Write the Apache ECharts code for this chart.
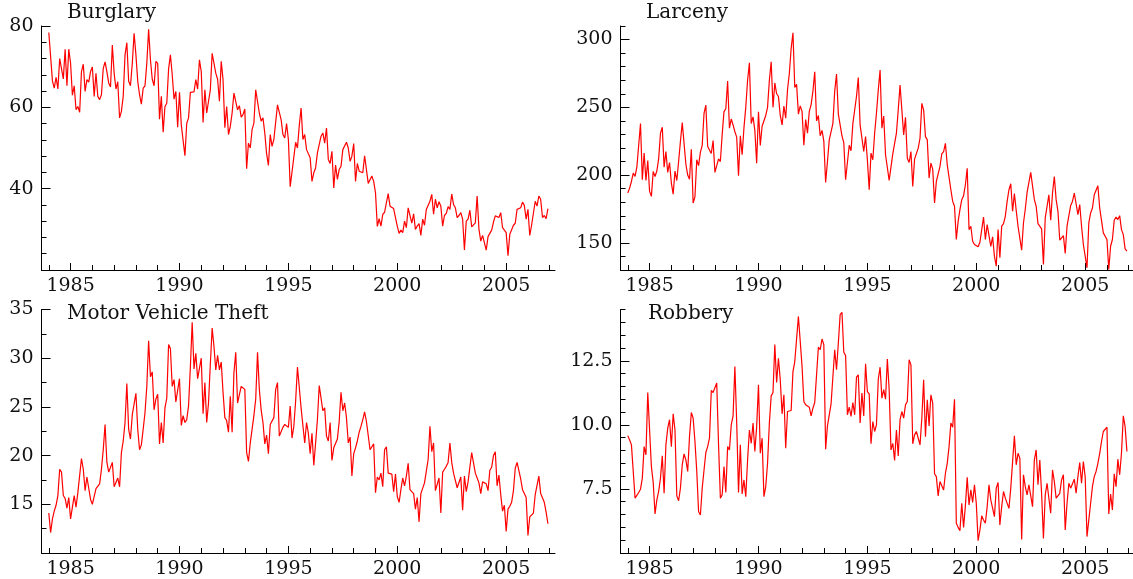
<!DOCTYPE html>
<html>
<head>
<meta charset="utf-8">
<script src="https://cdn.jsdelivr.net/npm/echarts@6/dist/echarts.min.js"></script>
<style>
  html, body { margin: 0; padding: 0; background: #fff; }
  #chart { width: 1133px; height: 579px; }
</style>
</head>
<body>
<div id="chart"></div>
<script>
// monthly values, Jan 1984 .. Dec 2006
const startYear = 1984;

const burglary = [
  78.4, 72.5, 66.5, 64.7, 67.4, 64.5, 72, 72.3, 67, 74.3, 65.3, 74.3,
  70.8, 63, 65.3, 59.4, 60.2, 58.8, 68.8, 70.6, 63.9, 66.8, 66.2, 68.8,
  69.9, 62.7, 68.4, 62.7, 61.9, 63.1, 69.6, 71.2, 68.8, 66, 65, 75.3,
  68.4, 64.5, 66.3, 57.4, 59, 62.7, 72.9, 75.9, 66.4, 65.3, 70.8, 78.2,
  72.9, 66.4, 63.1, 60.8, 64.7, 65.3, 70.8, 79.2, 71.7, 66.9, 65.3, 71.3,
  70.8, 57.1, 62.7, 53.9, 60.2, 61, 69.4, 72.9, 68, 62, 63.9, 55.1,
  63.7, 55.7, 55.5, 48.1, 56.1, 57.4, 63.7, 63.9, 63.8, 66.8, 64.5, 71.7,
  68.8, 56.3, 64.3, 58.6, 61.5, 64.3, 73.3, 73.5, 68.4, 66.9, 61.5, 71.3,
  66.8, 55, 60.2, 53.3, 55.3, 58.6, 63.5, 63.9, 59.4, 60.4, 57.6, 58.2,
  59.6, 44.9, 51.2, 50, 54.5, 56.1, 64.3, 64.7, 58.6, 56.6, 57.4, 53.7,
  48.6, 45.7, 53.3, 50.4, 52.1, 52.2, 60.6, 60.8, 57, 53.3, 52.5, 56,
  52.1, 40.5, 44.1, 43.9, 51.4, 50, 55.5, 59.8, 52.1, 53.3, 49.6, 49.2,
  47.6, 41.8, 43.9, 45.1, 48.8, 48.4, 52.9, 53.7, 51.2, 54.9, 47.2, 46.2,
  49.2, 40.2, 45.8, 42.3, 44.7, 45.5, 49.6, 49.2, 51.4, 50, 46.7, 48,
  51.1, 41.8, 46.2, 44.3, 44.5, 43.9, 48.1, 48.4, 41.3, 41.6, 43.1, 41.8,
  39, 30.7, 32.6, 30.8, 33.7, 34.2, 36.5, 38.8, 35.7, 35.6, 35.1, 32.9,
  30.8, 29, 29.8, 29.2, 32, 30.4, 35.3, 35.3, 31.5, 33.8, 30, 30.8,
  31.4, 28.5, 32.5, 31, 34.9, 35.3, 36.9, 38.6, 33.7, 37.4, 35.3, 36.8,
  35.7, 30.8, 33.4, 33.9, 35.6, 34.9, 38.7, 36.1, 35.3, 32.9, 33.4, 34.1,
  32.5, 24.9, 32, 32.5, 34.7, 30.6, 30.6, 31.6, 38.2, 30, 27.1, 28.5,
  28.5, 24.9, 28.2, 28.5, 29.8, 31.8, 33.3, 33.1, 32.9, 34.1, 30.4, 30.4,
  29.2, 23.5, 28.8, 28.8, 31, 31.5, 34.9, 35.3, 35.3, 36.7, 35.9, 32.5,
  34.9, 28.5, 31, 30.8, 36.9, 35.7, 38.2, 37.4, 32.9, 33.4, 32.6, 35.1
];

const larceny = [
  186.8, 190.4, 195.3, 201.5, 199, 206, 222, 238, 196.6, 216.2, 196, 210.8,
  188, 184.3, 202.7, 199, 203, 212, 230.9, 235.3, 205.9, 217.4, 202, 209.3,
  194.1, 186, 203, 196, 210, 225, 238.7, 238, 208, 200, 197, 219.1,
  179.4, 184, 211.3, 207, 217, 222, 245.6, 251.7, 221.1, 221, 216, 225.5,
  202, 202, 212, 210, 230, 246.8, 249, 269.4, 234.6, 241.4, 237, 232,
  228, 199.5, 229, 215, 235, 250, 270, 282.8, 238, 243, 233, 208.8,
  246.8, 221.8, 236, 236, 244, 250, 270, 283.6, 250, 268, 260, 258,
  244, 237, 251, 242, 263, 275, 293.4, 305, 264.7, 267, 245, 251,
  247, 222, 241, 231, 247, 252, 262, 276.2, 240, 244, 229, 233,
  225, 194.6, 210, 226, 232, 238, 262, 274.5, 245, 246, 229, 224,
  196.6, 197, 222, 218, 238, 248, 258, 272, 237, 237, 217.4, 228.4,
  211.3, 189.2, 216.2, 211.3, 230.9, 245.6, 262.7, 277.5, 234.6, 243.6, 215, 214.2,
  196.1, 196.6, 215.7, 215.7, 230.9, 248, 266.4, 266.4, 229.7, 242.6, 212.5, 209.3,
  217.4, 191.7, 211.8, 211.8, 219.9, 227.2, 252.9, 248, 228.4, 226, 197.8, 208.8,
  204.4, 179.4, 195.3, 194.6, 206.4, 215.7, 217.4, 223.5, 207.6, 207.6, 189.2, 180.6,
  177, 152.5, 165.9, 174.5, 181.9, 184.8, 192.9, 205.1, 159.8, 162.3, 151.2, 148.8,
  148.3, 147.1, 150.5, 159.8, 169.1, 152.5, 163.5, 163.5, 147.5, 154.4, 140.2, 132.8,
  159.8, 139, 162.3, 164.2, 169.6, 180.6, 189.2, 193.6, 173.3, 186.3, 174, 162.3,
  161, 144.6, 164.7, 175, 187.3, 188, 202, 202, 181.9, 177, 164.2, 163.5,
  160.3, 134.1, 168.4, 169.1, 185.5, 166.7, 186.8, 199, 181.9, 173.3, 152, 153.7,
  155.4, 142.2, 162.3, 162.7, 177.5, 180.6, 186.8, 185.5, 170.8, 178.2, 162.3, 148.8,
  147.5, 131.6, 164.7, 172.1, 175.7, 185.5, 186.8, 192.2, 175.7, 174.5, 157.4, 157.4,
  152.5, 130.4, 147.5, 152.5, 166.7, 169.1, 167.2, 170.1, 159.8, 156.1, 145.6, 143.9
];

const motorVehicleTheft = [
  14.1, 12.1, 13.5, 14.3, 14.9, 15.9, 18.6, 18.3, 15.9, 15.6, 14.6, 15.7,
  13.5, 13.5, 15.9, 14.7, 16.2, 16.4, 19.7, 18.6, 16.4, 17.8, 17.8, 15.5,
  15, 15, 16.6, 16.5, 17.1, 18.6, 20.6, 23.2, 19.3, 18.3, 18.2, 19.3,
  16.8, 16.8, 17.7, 16.8, 20.3, 21.5, 23.4, 27.4, 22.7, 21.7, 24.2, 25.3,
  26.4, 22.7, 20.6, 21.1, 22.7, 24.4, 27.1, 31.8, 28.1, 28.6, 24.7, 25.8,
  26.3, 21.2, 23.4, 21.3, 24.9, 25.9, 31.4, 31, 27.1, 27.8, 25.5, 25.5,
  27.9, 23.1, 24.1, 23.4, 23.7, 25.1, 29.1, 33.7, 28.9, 30.5, 27.9, 28,
  30, 24.3, 27.5, 23.4, 25.4, 29.4, 33.1, 31.2, 28.8, 30.3, 28.8, 29.6,
  26.5, 23.9, 23.6, 22.4, 26.1, 22.4, 28.5, 30.6, 25.4, 25.3, 27.1, 27.1,
  26.8, 20.3, 19.4, 21.3, 22.7, 24.1, 25.8, 30.6, 26.8, 24.7, 23.4, 21.2,
  22.1, 20.2, 23.2, 23.2, 23.9, 26.8, 27.5, 22, 22, 22.9, 23.2, 23.2,
  22.9, 25.1, 21.8, 23, 25.6, 29.1, 28.9, 24.9, 24.8, 21.3, 23.4, 22.3,
  20.2, 22.3, 19, 21.3, 23.7, 27.2, 27.4, 24.6, 24.9, 22, 21.5, 23.4,
  19.5, 20.8, 20.8, 21.7, 23.5, 26.5, 24.6, 25.4, 23.9, 21.3, 21.9, 17.9,
  20.2, 20.8, 21.5, 22.4, 23, 23.7, 24.5, 23.5, 23.5, 20.6, 20.6, 21.2,
  16.2, 17.8, 17.5, 18.2, 16.8, 20.6, 20.9, 18.2, 18.2, 18.1, 16.3, 18.1,
  15.8, 15.2, 16.5, 17.7, 16.9, 17.9, 19.2, 16.5, 16.4, 16.1, 14.5, 15.7,
  13.2, 16.1, 15.9, 17.2, 18.4, 19.6, 23, 20.4, 21.3, 16.4, 16.6, 17.7,
  14.1, 18.3, 18.6, 18.9, 19.3, 21.3, 19.3, 18.2, 18.2, 16.7, 16.8, 17.8,
  14.4, 17.9, 16.3, 17.3, 17.2, 20.3, 20.1, 18.2, 17.7, 17.2, 16.1, 17.3,
  17.2, 17.1, 16.4, 18.5, 18.8, 20, 20.4, 16.9, 18, 16, 14.3, 14.9,
  12.2, 14.5, 14.8, 15.2, 16.4, 18.7, 19.3, 19.2, 17.6, 16.5, 16.1, 15.7,
  11.8, 13.7, 13.8, 14.1, 16, 15.9, 17.9, 16.1, 16.1, 15.2, 14.2, 13
];

const robbery = [
  9.58, 9.41, 9.22, 8.18, 7.14, 7.1, 7.36, 7.49, 7.92, 9.15, 8.83, 11.26,
  9.8, 8.37, 7.75, 6.52, 7.07, 7.4, 7.92, 8.79, 7.33, 9.22, 9.87, 10.2,
  9.15, 10.43, 9.8, 7.23, 7.04, 7.53, 8.44, 8.87, 8.63, 8.18, 9.54, 10.48,
  10.26, 9.35, 8.18, 6.61, 6.48, 7.53, 8.24, 8.92, 9.15, 9.48, 11.34, 11.26,
  11.3, 11.63, 9.22, 7.14, 7.27, 8.37, 7.36, 9.15, 9.02, 10, 10.35, 12.28,
  10.09, 7.36, 9.22, 7.3, 7.85, 7.2, 8.63, 9.8, 9.28, 10.07, 8.96, 9.93,
  11.56, 8.89, 9.48, 7.2, 7.59, 8.5, 10.07, 11.13, 11.26, 13.13, 11.65, 12.6,
  11.76, 10.43, 11.17, 9.09, 10.52, 10.52, 10.56, 12.08, 12.47, 12.54, 14.23, 13.26,
  12.28, 10.91, 10.78, 10.74, 10.69, 10.35, 10.65, 10.87, 11.95, 13.03, 12.93, 13.35,
  13.13, 9.05, 9.96, 10, 10.82, 10.78, 12.93, 12.15, 13.19, 14.3, 14.39, 12.83,
  12.7, 10.39, 10.69, 10.33, 10.87, 10.39, 11.86, 11.95, 10.07, 11.24, 10.35, 12.38,
  11.3, 11.21, 9.26, 10.13, 9.74, 10, 11.78, 12.25, 11.04, 11.37, 11, 12.57,
  11.37, 9.02, 9.28, 8.61, 9.8, 8.79, 10.2, 10.52, 10.26, 10.78, 10.91, 12.54,
  12.34, 9.26, 9.61, 9.74, 9.7, 9.22, 10.26, 11.76, 9.54, 10.98, 9.96, 11.17,
  10.85, 8.09, 7.98, 7.23, 7.79, 7.79, 7.46, 8.11, 8.5, 9.15, 10.07, 9.91,
  11, 6.16, 6.0, 5.87, 6.94, 6.0, 6.84, 7.95, 6.87, 7.46, 6.97, 7.66,
  6.94, 5.48, 5.9, 6.45, 6.29, 6.16, 6.81, 7.66, 7.07, 7.0, 6.42, 7.53,
  7.75, 6.09, 6.81, 7.4, 7.14, 7.17, 6.74, 7.53, 7.59, 9.57, 8.44, 8.89,
  8.7, 5.53, 8.05, 7.59, 7.27, 7.66, 7.59, 6.81, 8.63, 9.02, 7.66, 8.63,
  7.3, 5.57, 7.27, 7.72, 7.66, 6.55, 8.24, 7.79, 7.14, 7.17, 7.33, 7.85,
  8.05, 5.9, 6.94, 7.72, 7.53, 7.46, 7.88, 7.33, 7.98, 8.53, 7.72, 8.57,
  7.98, 5.64, 6.29, 6.94, 7.59, 7.98, 8.18, 8.5, 8.89, 9.35, 9.74, 9.67,
  9.91, 6.52, 7.3, 6.68, 8.09, 7.59, 8.66, 8.05, 8.89, 10.35, 9.93, 8.96
];

// axis ticks and labels
const yearTicks = [];
for (let y = 1984; y <= 2007; y++) yearTicks.push(y);
const yearLabels = [1985, 1990, 1995, 2000, 2005];

const burglaryTicks = [20, 24, 28, 32, 36, 40, 44, 48, 52, 56, 60, 64, 68, 72, 76, 80];
const burglaryLabels = [40, 60, 80];
const larcenyTicks = [130, 140, 150, 160, 170, 180, 190, 200, 210, 220, 230, 240, 250, 260, 270, 280, 290, 300, 310];
const larcenyLabels = [150, 200, 250, 300];
const mvtTicks = [10, 12.5, 15, 17.5, 20, 22.5, 25, 27.5, 30, 32.5, 35];
const mvtLabels = [15, 20, 25, 30, 35];
const robberyTicks = [5, 5.5, 6, 6.5, 7, 7.5, 8, 8.5, 9, 9.5, 10, 10.5, 11, 11.5, 12, 12.5, 13, 13.5, 14, 14.5];
const robberyLabels = [7.5, 10, 12.5];

const panels = [
  { name: 'Burglary', data: burglary, min: 20, max: 80, ticks: burglaryTicks, labels: burglaryLabels, dec: 0,
    left: 41.5, top: 26, width: 513.5, titleLeft: 67, titleTop: 3 },
  { name: 'Larceny', data: larceny, min: 130, max: 310, ticks: larcenyTicks, labels: larcenyLabels, dec: 0,
    left: 620.5, top: 26, width: 512.5, titleLeft: 646, titleTop: 3 },
  { name: 'Motor Vehicle Theft', data: motorVehicleTheft, min: 10, max: 35, ticks: mvtTicks, labels: mvtLabels, dec: 0,
    left: 41.5, top: 309.5, width: 513.5, titleLeft: 67, titleTop: 304 },
  { name: 'Robbery', data: robbery, min: 5, max: 14.5, ticks: robberyTicks, labels: robberyLabels, dec: 1,
    left: 620.5, top: 309.5, width: 512.5, titleLeft: 648, titleTop: 304 }
];

const font = 'DejaVu Serif';
const pxPerYear = 21.78;
const plotHeight = 244;

const grids = [], xAxes = [], yAxes = [], series = [], titles = [];

panels.forEach((p, g) => {
  grids.push({ left: p.left, top: p.top, width: p.width, height: plotHeight });
  const xMin = 1984 - 7.3 / pxPerYear;
  const xMax = xMin + p.width / pxPerYear;

  // main x axis: line, yearly ticks, labels
  xAxes.push({
    type: 'value', gridIndex: g, min: xMin, max: xMax, position: 'bottom',
    axisLine: { show: true, lineStyle: { color: '#000', width: 1 } },
    axisTick: { show: true, inside: true, length: 5, customValues: yearTicks, lineStyle: { color: '#000' } },
    axisLabel: { show: true, customValues: yearLabels, margin: 7, color: '#111', fontFamily: font, fontSize: 19,
      formatter: (v) => String(Math.round(v)) },
    splitLine: { show: false }
  });
  // overlay x axis: longer ticks at labelled years
  xAxes.push({
    type: 'value', gridIndex: g, min: xMin, max: xMax, position: 'bottom', offset: 0,
    axisLine: { show: false },
    axisTick: { show: true, inside: true, length: 7, customValues: yearLabels, lineStyle: { color: '#000' } },
    axisLabel: { show: false },
    splitLine: { show: false }
  });

  yAxes.push({
    type: 'value', gridIndex: g, min: p.min, max: p.max, position: 'left',
    axisLine: { show: true, lineStyle: { color: '#000', width: 1 } },
    axisTick: { show: true, inside: true, length: 5, customValues: p.ticks, lineStyle: { color: '#000' } },
    axisLabel: { show: true, customValues: p.labels, margin: 8, color: '#111', fontFamily: font, fontSize: 19,
      formatter: (v) => v.toFixed(p.dec) },
    splitLine: { show: false }
  });
  yAxes.push({
    type: 'value', gridIndex: g, min: p.min, max: p.max, position: 'left', offset: 0,
    axisLine: { show: false },
    axisTick: { show: true, inside: true, length: 9, customValues: p.labels, lineStyle: { color: '#000' } },
    axisLabel: { show: false },
    splitLine: { show: false }
  });

  series.push({
    type: 'line', name: p.name,
    xAxisIndex: 2 * g, yAxisIndex: 2 * g,
    data: p.data.map((v, i) => [startYear + i / 12, v]),
    showSymbol: false, symbol: 'none',
    lineStyle: { color: '#ff0000', width: 1.2 },
    itemStyle: { color: '#ff0000' }
  });

  titles.push({
    text: p.name, left: p.titleLeft, top: p.titleTop, padding: 0,
    textStyle: { fontFamily: font, fontWeight: 'normal', fontSize: 20, color: '#111' }
  });
});

const chart = echarts.init(document.getElementById('chart'), null, { renderer: 'canvas' });
chart.setOption({
  animation: false,
  backgroundColor: '#fff',
  title: titles,
  grid: grids,
  xAxis: xAxes,
  yAxis: yAxes,
  series: series
});
</script>
</body>
</html>
